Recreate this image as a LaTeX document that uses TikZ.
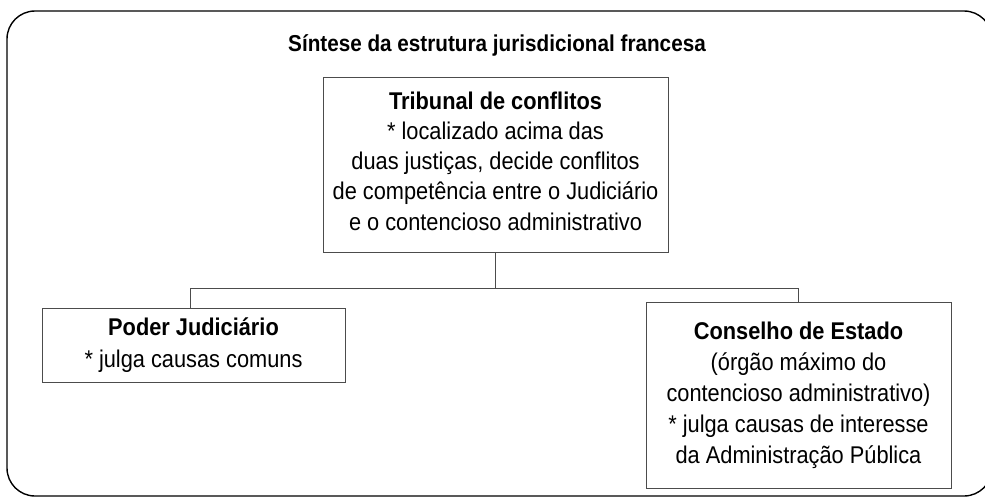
\documentclass[tikz,border=0pt]{standalone}
\usepackage{fontspec}
\setmainfont[FakeStretch=0.9]{Liberation Sans}
\newcommand{\hd}[1]{{\bfseries #1}}
\begin{document}
\begin{tikzpicture}[x=1pt,y=-1pt,
  every node/.style={inner sep=0pt},
  boxstyle/.style={draw=black!70, line width=0.6pt, align=center, font=\fontsize{24.2}{30.3}\selectfont},
  linkstyle/.style={draw=black!70, line width=0.6pt},
  framestyle/.style={draw=black, line width=1.4pt, rounded corners=28pt}]
\useasboundingbox (0,0) rectangle (985,498);
\draw[framestyle] (7,11) rectangle (992,496);
\node (title) at (497,45) {\fontsize{23}{26}\selectfont\bfseries Síntese da estrutura jurisdicional francesa};
\node[boxstyle, minimum width=345pt, minimum height=175pt] (trib) at (495.5,164.5) {};
\node[align=center, font=\fontsize{24.2}{30.3}\selectfont] (tribtext) at (495.5,161) {\hd{Tribunal de conflitos}\\* localizado acima das\\duas justiças, decide conflitos\\de competência entre o Judiciário\\e o contencioso administrativo};
\node[boxstyle, minimum width=303pt, minimum height=74pt, font=\fontsize{24.2}{32}\selectfont] (pj) at (193.5,345) {\hd{Poder Judiciário}\\* julga causas comuns};
\node[boxstyle, minimum width=305pt, minimum height=186pt, font=\fontsize{24.2}{31}\selectfont] (ce) at (798.5,395) {\hd{Conselho de Estado}\\(órgão máximo do\\contencioso administrativo)\\* julga causas de interesse\\da Administração Pública};
\coordinate (hy) at (0,288);
\coordinate (pjtop) at ([xshift=-3.5pt]pj.north);
\coordinate (cetop) at (ce.north);
\draw[linkstyle] (trib.south) -- (trib.south |- hy);
\draw[linkstyle] (pjtop) -- (pjtop |- hy) -- (cetop |- hy) -- (cetop);
\end{tikzpicture}
\end{document}
